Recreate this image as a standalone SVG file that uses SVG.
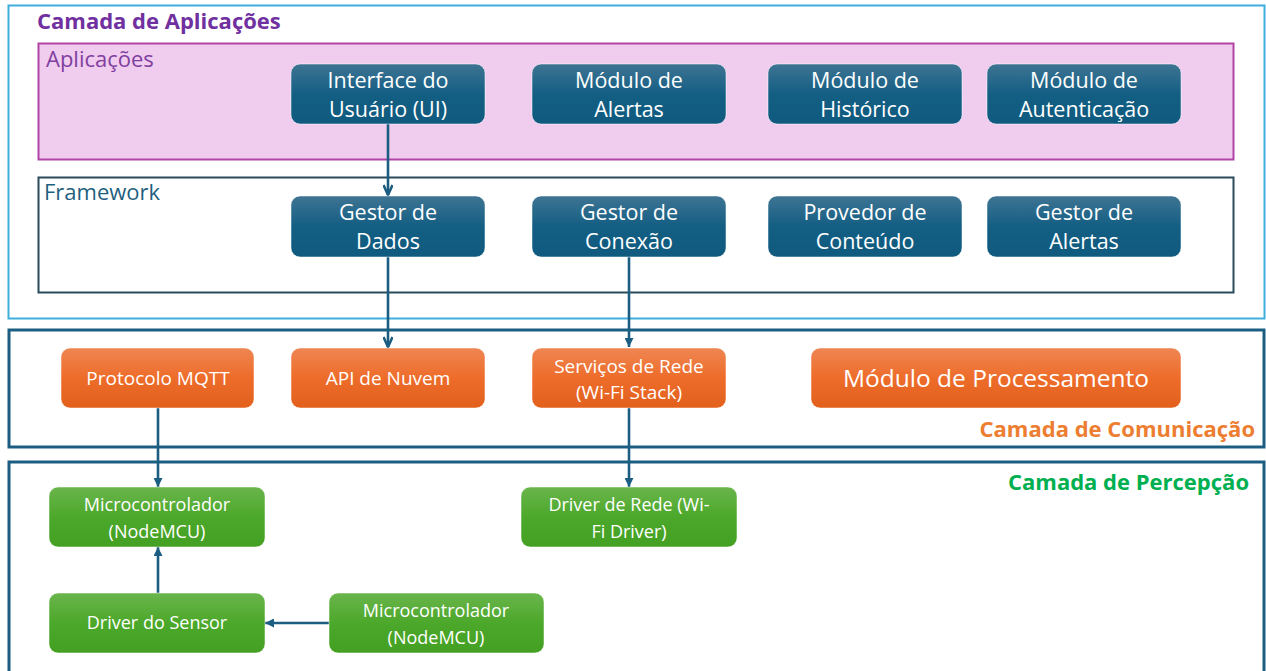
<svg xmlns="http://www.w3.org/2000/svg" width="1266" height="671" viewBox="0 0 1266 671">
<defs>
<linearGradient id="gb" x1="0" y1="0" x2="0" y2="1"><stop offset="0" stop-color="#3F7493"/><stop offset="0.5" stop-color="#135E83"/><stop offset="1" stop-color="#0F5A7E"/></linearGradient>
<linearGradient id="go" x1="0" y1="0" x2="0" y2="1"><stop offset="0" stop-color="#EE8652"/><stop offset="0.5" stop-color="#EE6C2A"/><stop offset="1" stop-color="#E2601C"/></linearGradient>
<linearGradient id="gg" x1="0" y1="0" x2="0" y2="1"><stop offset="0" stop-color="#6AB54C"/><stop offset="0.5" stop-color="#4CA82A"/><stop offset="1" stop-color="#44A022"/></linearGradient>
<marker id="chev" viewBox="0 0 12 10" refX="11" refY="5" markerWidth="12" markerHeight="10" markerUnits="userSpaceOnUse" orient="auto"><path d="M1,0.5 L11,5 L1,9.5" fill="none" stroke="#1B5E82" stroke-width="2.6"/></marker>
<marker id="tri" viewBox="0 0 10 10" refX="10" refY="5" markerWidth="10" markerHeight="9" markerUnits="userSpaceOnUse" orient="auto"><path d="M0,0 L10,5 L0,10 Z" fill="#1B5E82"/></marker>
</defs>
<style>
.t{font-family:"Open Sans","Noto Sans",sans-serif;fill:#ffffff;text-anchor:middle}
.nb{fill:url(#gb);stroke:#ffffff;stroke-opacity:0.5;stroke-width:1}
.no{fill:url(#go);stroke:#ffffff;stroke-opacity:0.5;stroke-width:1}
.ng{fill:url(#gg);stroke:#ffffff;stroke-opacity:0.5;stroke-width:1}
.b{font-size:21.5px}
.o{font-size:19px}
.g{font-size:18px}
.c{fill:none;stroke:#1B5E82;stroke-width:2.6}
.h{font-family:"Open Sans","Noto Sans",sans-serif;font-weight:bold;font-size:22px}
.l{font-family:"Open Sans","Noto Sans",sans-serif;font-size:22px}
</style>
<rect width="1266" height="671" fill="#ffffff"/>
<g id="layers">
<rect x="8.5" y="5.5" width="1256" height="313" fill="none" stroke="#3FAEDD" stroke-width="2"/>
<text class="h" x="37" y="29" fill="#7030A0">Camada de Aplicações</text>
<rect x="38.5" y="43.5" width="1195" height="116" fill="#F0CCEE" stroke="#B045A5" stroke-width="2"/>
<text class="l" x="46" y="67" fill="#7F3FA0">Aplicações</text>
<rect x="38.5" y="177.5" width="1195" height="115" fill="#ffffff" stroke="#2A4A5A" stroke-width="2"/>
<text class="l" x="44" y="200" fill="#1F5F80">Framework</text>
<rect x="9" y="330" width="1255" height="117" fill="none" stroke="#1B5E82" stroke-width="3"/>
<text class="h" x="1255" y="437" fill="#ED7D31" text-anchor="end">Camada de Comunicação</text>
<rect x="9" y="462" width="1255" height="215" fill="none" stroke="#1B5E82" stroke-width="3"/>
<text class="h" x="1249" y="490" fill="#00B050" text-anchor="end">Camada de Percepção</text>
</g>
<g id="connectors">
<line class="c" x1="388" y1="124" x2="388" y2="195" marker-end="url(#chev)"/>
<line class="c" x1="388" y1="257" x2="388" y2="347" marker-end="url(#chev)"/>
<line class="c" x1="629" y1="257" x2="629" y2="347" marker-end="url(#tri)"/>
<line class="c" x1="158" y1="408" x2="158" y2="487" marker-end="url(#tri)"/>
<line class="c" x1="629" y1="408" x2="629" y2="487" marker-end="url(#tri)"/>
<line class="c" x1="158" y1="593" x2="158" y2="547" marker-end="url(#tri)"/>
<line class="c" x1="329" y1="623" x2="265" y2="623" marker-end="url(#tri)"/>
</g>
<g id="n-ui"><rect class="nb" x="291" y="64" width="194" height="60" rx="9"/><text class="t b" x="388" y="88">Interface do</text><text class="t b" x="388" y="117">Usuário (UI)</text></g>
<g id="n-alertas"><rect class="nb" x="532" y="64" width="194" height="60" rx="9"/><text class="t b" x="629" y="88">Módulo de</text><text class="t b" x="629" y="117">Alertas</text></g>
<g id="n-historico"><rect class="nb" x="768" y="64" width="194" height="60" rx="9"/><text class="t b" x="865" y="88">Módulo de</text><text class="t b" x="865" y="117">Histórico</text></g>
<g id="n-auth"><rect class="nb" x="987" y="64" width="194" height="60" rx="9"/><text class="t b" x="1084" y="88">Módulo de</text><text class="t b" x="1084" y="117">Autenticação</text></g>
<g id="n-dados"><rect class="nb" x="291" y="196" width="194" height="61" rx="9"/><text class="t b" x="388" y="220">Gestor de</text><text class="t b" x="388" y="249">Dados</text></g>
<g id="n-conexao"><rect class="nb" x="532" y="196" width="194" height="61" rx="9"/><text class="t b" x="629" y="220">Gestor de</text><text class="t b" x="629" y="249">Conexão</text></g>
<g id="n-provedor"><rect class="nb" x="768" y="196" width="194" height="61" rx="9"/><text class="t b" x="865" y="220">Provedor de</text><text class="t b" x="865" y="249">Conteúdo</text></g>
<g id="n-galertas"><rect class="nb" x="987" y="196" width="194" height="61" rx="9"/><text class="t b" x="1084" y="220">Gestor de</text><text class="t b" x="1084" y="249">Alertas</text></g>
<g id="n-mqtt"><rect class="no" x="61" y="348" width="193" height="60" rx="9"/><text class="t o" x="158" y="385">Protocolo MQTT</text></g>
<g id="n-api"><rect class="no" x="291" y="348" width="194" height="60" rx="9"/><text class="t o" x="388" y="385">API de Nuvem</text></g>
<g id="n-rede"><rect class="no" x="532" y="348" width="194" height="60" rx="9"/><text class="t o" x="629" y="373">Serviços de Rede</text><text class="t o" x="629" y="399">(Wi-Fi Stack)</text></g>
<g id="n-proc"><rect class="no" x="811" y="348" width="370" height="60" rx="9"/><text class="t" x="996" y="387" font-size="24.5">Módulo de Processamento</text></g>
<g id="n-micro1"><rect class="ng" x="49" y="487" width="216" height="60" rx="9"/><text class="t g" x="157" y="511">Microcontrolador</text><text class="t g" x="157" y="538">(NodeMCU)</text></g>
<g id="n-driverrede"><rect class="ng" x="521" y="487" width="216" height="60" rx="9"/><text class="t g" x="629" y="511">Driver de Rede (Wi-</text><text class="t g" x="629" y="538">Fi Driver)</text></g>
<g id="n-sensor"><rect class="ng" x="49" y="593" width="216" height="60" rx="9"/><text class="t g" x="157" y="629">Driver do Sensor</text></g>
<g id="n-micro2"><rect class="ng" x="329" y="593" width="215" height="60" rx="9"/><text class="t g" x="436" y="617">Microcontrolador</text><text class="t g" x="436" y="644">(NodeMCU)</text></g>
</svg>
